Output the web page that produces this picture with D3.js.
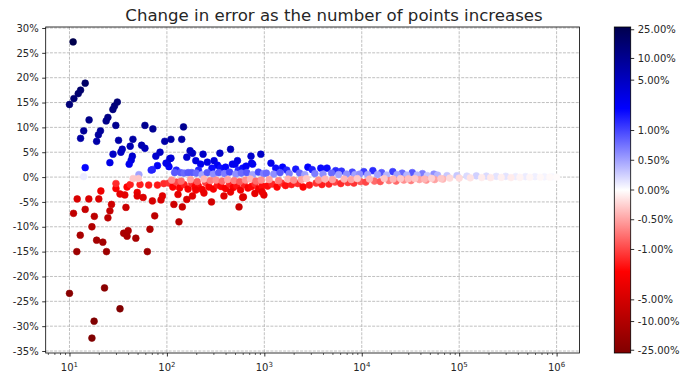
<!DOCTYPE html>
<html><head><meta charset="utf-8">
<script src="https://cdn.jsdelivr.net/npm/d3@7"></script>
<style>body{margin:0;background:#fff}text{font-family:"DejaVu Sans",sans-serif;fill:#262626}</style>
</head><body><svg id="c" width="685" height="381"></svg>
<script>
// ---- data: n (number of points) and change in error (%) ----
const earlyN = [10.9,14.5,13.0,12.3,11.1,10.0,31,29,27.9,15.9,24.8,23.8,29.9,59.5,71.8,14.0,20.8,19.8,13.0,19.0,31.9,44.8,55,59.5,42,34.8,33.7,28,44.2,43,26,41,85,77,80,71,69,14.5,51.6,95,110,107,98,105,
  12,15.8,20,21,11,14.5,18,17,12.9,11.9,19,22,24,10,22.9,33,17.9,17,24.8,26,27,30,33,37,39,38,49.6,49.6,57,71,87,90,36,40,39,48,67,63,75,30,42,53,65,80,93,51,45,14];
const earlyErr = [27.2,18.9,17.5,16.8,15.8,14.6,15.1,14.3,13.6,11.5,12.0,11.3,10.4,10.4,9.7,9.3,9.3,8.5,7.8,7.2,7.4,7.6,6.4,5.8,6.2,5.6,5.0,4.6,4.2,3.4,2.9,2.6,5.0,4.2,2.3,1.5,1.4,1.9,0.5,7.2,7.6,3.7,2.8,2.1,
  -4.4,-4.4,-4.4,-2.8,-7.3,-6.5,-7.9,-10,-11.7,-15,-12.7,-13.1,-15,-23.4,-22.3,-26.5,-29,-32.4,-8.2,-6.8,-5.5,-2.3,-3.4,-3.6,-2,-6.1,-3.1,-3.8,-4.1,-4.8,-4.6,-3.8,-11.3,-10.8,-11.9,-12.3,-10.5,-15,-7.8,-1.3,-1.5,-1.5,-1.6,-1.6,-1.3,-0.3,-0.3,0.1];
const midN = [148,142,173,183,235,350,450,198,222,305,330,530,500,540,730,920,740,600,290,355,101,110,125,650,760,211,470,160,260,400,
  120,138,150,165,180,200,230,260,300,340,390,440,510,580,660,760,870,980,
  105,115,125,135,150,165,180,195,210,230,250,270,300,330,360,400,440,480,520,570,620,680,740,800,870,950,
  112,140,175,205,240,280,320,370,420,490,560,640,720,820,930,
  183,198,287,550,385,600,990,118,144,950,610,130,160,240,450,800,133];
const midErr = [10.1,7.6,5.3,4.8,4.6,4.8,5.6,3.3,2.6,3.3,2.4,3.3,2.6,1.4,4.2,4.6,2.8,1.8,1.8,1.8,2.8,3.8,1.4,2.2,2.6,1.4,2.6,4.0,3.0,2.0,
  0.9,0.9,0.8,0.9,0.9,0.8,0.5,0.9,0.6,0.9,0.7,1.0,0.6,0.8,0.9,0.5,1.0,0.7,
  -1.2,-2.0,-1.0,-2.2,-1.5,-2.4,-1.3,-2.0,-1.8,-2.5,-1.1,-2.0,-2.4,-1.6,-1.9,-2.3,-1.4,-2.1,-1.7,-2.6,-1.5,-2.2,-1.9,-1.3,-2.4,-1.8,
  -0.6,-0.8,-0.5,-0.9,-0.4,-0.7,-0.6,-0.8,-0.5,-0.7,-0.9,-0.6,-0.4,-0.8,-0.6,
  -3.8,-2.6,-5.0,-6.0,-3.8,-4.1,-3.6,-5.5,-6.0,-3.0,-4.0,-3.5,-4.5,-3.2,-3.0,-3.3,-9.0];
const lateN = [1170,1310,1540,1700,2100,2800,3100,3800,4400,5400,6200,8000,10500,13000,16000,20800,26000,33000,42000,55000,
  1050,1250,1450,1800,2300,2600,3300,4000,4900,5800,7000,8500,9500,11500,14500,18000,23000,29000,37000,47000,60000,75000,95000,120000,150000,190000,240000,300000,380000,480000,600000,750000,900000,
  1080,1200,1350,1500,1650,1900,2200,2500,2900,3400,3900,4600,5300,6100,7200,8300,9700,11000,13500,15500,19000,22500,27000,32000,39000,46000,56000,68000,
  1120,1400,1750,2000,2400,2700,3600,4200,5000,6600,7800,9000,12000,17000,21000,25000,30000,35000,44000,52000,65000,80000,100000,130000,170000,210000,270000,340000,420000,530000,680000,850000,1000000];
const lateErr = [2.8,1.8,2.0,1.4,1.6,2.0,1.5,1.8,1.8,1.3,1.2,1.0,1.1,1.3,0.9,1.1,0.8,0.9,0.7,0.6,
  0.8,0.6,0.9,0.7,0.8,0.5,0.7,0.6,0.8,0.5,0.6,0.5,0.6,0.5,0.5,0.4,0.5,0.4,0.4,0.3,0.4,0.3,0.3,0.2,0.25,0.2,0.15,0.15,0.1,0.1,0.08,0.06,0.05,
  -1.8,-1.4,-2.0,-1.2,-1.7,-1.5,-1.3,-2.0,-1.6,-1.2,-1.5,-1.4,-1.0,-1.3,-1.1,-1.2,-0.9,-1.0,-0.8,-0.9,-0.7,-0.8,-0.6,-0.7,-0.5,-0.6,-0.5,-0.4,
  -0.5,-0.7,-0.4,-0.6,-0.5,-0.3,-0.6,-0.4,-0.5,-0.4,-0.5,-0.3,-0.4,-0.3,-0.4,-0.3,-0.35,-0.3,-0.4,-0.25,-0.3,-0.2,-0.2,-0.15,-0.1,-0.12,-0.08,-0.1,-0.06,-0.05,-0.04,-0.03,-0.02];
const yTicks = [30,25,20,15,10,5,0,-5,-10,-15,-20,-25,-30,-35];
const xTickExps = [1,2,3,4,5,6];
const cbTicks = [25,10,5,1,0.5,0,-0.5,-1,-5,-10,-25];
const title = "Change in error as the number of points increases";

const points = [];
[[earlyN,earlyErr],[midN,midErr],[lateN,lateErr]].forEach(([ns,es])=>ns.forEach((n,i)=>points.push({n,e:es[i]})));

const svg = d3.select("#c");
const L = 45.7, R = 579.5, T = 27, B = 353;
const x = d3.scaleLog().domain([Math.pow(10,0.756), Math.pow(10,6.235)]).range([L,R]);
const y = d3.scaleLinear().domain([-35.4,30.2]).range([B,T]);

// symmetric symlog-like norm, seismic_r colormap
const LIN = 0.825, VMAX = 27.3;
const tf = v => { const a = Math.abs(v); return Math.sign(v) * (a < 1 ? a*LIN : LIN + Math.log10(a)); };
const normP = v => Math.max(0, Math.min(1, 0.5 + 0.5*tf(v)/tf(VMAX)));
const seismic = d3.scaleLinear().domain([0,0.25,0.5,0.75,1])
  .range(["rgb(0,0,77)","rgb(0,0,255)","rgb(255,255,255)","rgb(255,0,0)","rgb(128,0,0)"]);
const color = v => seismic(1 - normP(v));

// grid
const g = svg.append("g");
const dash = "2.96,1.28";
yTicks.forEach(t => g.append("line").attr("x1",L).attr("x2",R).attr("y1",y(t)).attr("y2",y(t))
  .attr("stroke","#b0b0b0").attr("stroke-width",0.8).attr("stroke-dasharray",dash));
xTickExps.forEach(k => g.append("line").attr("x1",x(10**k)).attr("x2",x(10**k)).attr("y1",T).attr("y2",B)
  .attr("stroke","#b0b0b0").attr("stroke-width",0.8).attr("stroke-dasharray",dash));

// points
svg.append("g").selectAll("circle").data(points).join("circle")
  .attr("cx",d=>x(d.n)).attr("cy",d=>y(d.e)).attr("r",3.4)
  .attr("fill",d=>color(d.e)).attr("stroke",d=>color(d.e)).attr("stroke-width",0.6);

// frame
svg.append("rect").attr("x",L).attr("y",T).attr("width",R-L).attr("height",B-T)
  .attr("fill","none").attr("stroke","#000").attr("stroke-width",0.8);

// y axis
const ya = svg.append("g").attr("transform",`translate(${L},0)`)
  .call(d3.axisLeft(y).tickValues(yTicks).tickFormat(d=>d+"%").tickSize(3.5).tickPadding(3.5));
ya.select(".domain").remove();
ya.selectAll("text").style("font-size","10px").attr("fill","#262626").style("font-family","DejaVu Sans");
ya.selectAll("line").attr("stroke","#000").attr("stroke-width",0.8);

// x axis
const minor = [];
for (let k=0;k<=6;k++) for (let m=2;m<=9;m++){ const v=m*10**k; if (v>=x.domain()[0] && v<=x.domain()[1]) minor.push(v); }
const xa = svg.append("g").attr("transform",`translate(0,${B})`);
xa.call(d3.axisBottom(x).tickValues(minor).tickFormat("").tickSize(2).tickSizeOuter(0));
xa.select(".domain").remove();
xa.selectAll("line").attr("stroke","#000").attr("stroke-width",0.6);
const xb = svg.append("g").attr("transform",`translate(0,${B})`);
xb.call(d3.axisBottom(x).tickValues(xTickExps.map(k=>10**k)).tickFormat("").tickSize(3.5).tickSizeOuter(0));
xb.select(".domain").remove();
xb.selectAll("line").attr("stroke","#000").attr("stroke-width",0.8);
xTickExps.forEach(k => {
  const t = svg.append("text").attr("x",x(10**k)).attr("y",B+18).attr("text-anchor","middle").style("font-size","10px");
  t.append("tspan").text("10");
  t.append("tspan").attr("dy",-4).style("font-size","7px").text(k);
});

// title
svg.append("text").attr("x",334).attr("y",20.5).attr("text-anchor","middle")
  .style("font-size","16.6px").text(title);

// colorbar
const cbL = 614.3, cbW = 16.4;
const defs = svg.append("defs");
const grad = defs.append("linearGradient").attr("id","cbg").attr("x1",0).attr("x2",0).attr("y1",1).attr("y2",0);
[0,0.25,0.5,0.75,1].forEach(p => grad.append("stop").attr("offset",p).attr("stop-color",seismic(1-p)));
svg.append("rect").attr("x",cbL).attr("y",T).attr("width",cbW).attr("height",B-T).attr("fill","url(#cbg)");
svg.append("rect").attr("x",cbL).attr("y",T).attr("width",cbW).attr("height",B-T)
  .attr("fill","none").attr("stroke","#000").attr("stroke-width",0.8);
const cy = d3.scaleLinear().domain([0,1]).range([B,T]);
const cba = svg.append("g").attr("transform",`translate(${cbL+cbW},0)`);
cbTicks.forEach(v => {
  const yy = cy(normP(v));
  cba.append("line").attr("x1",0).attr("x2",3.5).attr("y1",yy).attr("y2",yy).attr("stroke","#000").attr("stroke-width",0.8);
  cba.append("text").attr("x",7).attr("y",yy).attr("dy","0.35em").style("font-size","10px").text(v.toFixed(2)+"%");
});
</script></body></html>
